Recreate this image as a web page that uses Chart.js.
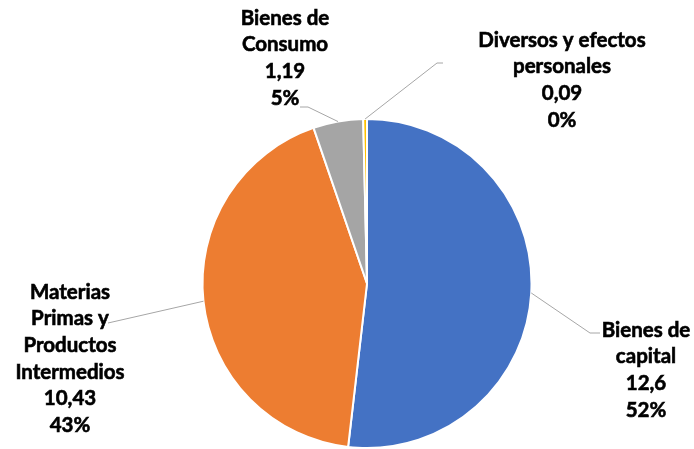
<!DOCTYPE html>
<html>
<head>
<meta charset="utf-8">
<script src="https://cdn.jsdelivr.net/npm/chart.js@4/dist/chart.umd.min.js"></script>
<style>
  html, body { margin: 0; padding: 0; background: #fff; }
  #wrap { width: 694px; height: 449px; }
</style>
</head>
<body>
<div id="wrap"><canvas id="pie"></canvas></div>
<script>
var categories = ['Bienes de capital', 'Materias Primas y Productos Intermedios', 'Bienes de Consumo', 'Diversos y efectos personales'];
var values = [12.6, 10.43, 1.19, 0.09];
var colors = ['#4472C4', '#ED7D31', '#A5A5A5', '#FFC000'];

// how each category name is broken into lines in the labels
var labelLines = [
    ['Bienes de', 'capital'],
    ['Materias', 'Primas y', 'Productos', 'Intermedios'],
    ['Bienes de', 'Consumo'],
    ['Diversos y efectos', 'personales']
];

// label placement: text centre x, first line y, leader bend and end points
var labelLayout = [
    { x: 646, y: 330, bend: [590, 333], end: [600, 333] },
    { x: 70, y: 292, bend: null, end: [108, 323] },
    { x: 285, y: 18, bend: [308, 107], end: [300, 107] },
    { x: 562, y: 40, bend: [437, 63], end: [443, 63] }
];

var fmt = function (v) {
    return String(v).replace('.', ',');
};

var pieLabels = {
    id: 'pieLabels',
    afterDatasetsDraw: function (chart) {
        var ctx = chart.ctx;
        var meta = chart.getDatasetMeta(0);
        var total = values.reduce(function (a, b) { return a + b; }, 0);
        ctx.save();
        meta.data.forEach(function (arc, i) {
            var p = arc.getProps(['x', 'y', 'startAngle', 'endAngle', 'outerRadius'], true);
            var mid = (p.startAngle + p.endAngle) / 2;
            var sx = p.x + Math.cos(mid) * p.outerRadius;
            var sy = p.y + Math.sin(mid) * p.outerRadius;
            var lay = labelLayout[i];

            ctx.strokeStyle = '#A6A6A6';
            ctx.lineWidth = 1;
            ctx.beginPath();
            ctx.moveTo(sx, sy);
            if (lay.bend) ctx.lineTo(lay.bend[0], lay.bend[1]);
            ctx.lineTo(lay.end[0], lay.end[1]);
            ctx.stroke();

            var lines = labelLines[i].concat([fmt(values[i]), Math.round(values[i] / total * 100) + '%']);
            ctx.fillStyle = '#000';
            ctx.font = 'bold 20.5px Lato';
            ctx.textAlign = 'center';
            ctx.textBaseline = 'middle';
            lines.forEach(function (t, k) {
                ctx.lineWidth = 0.6;
                ctx.strokeStyle = '#000';
                ctx.strokeText(t, lay.x, lay.y + k * 26.7);
                ctx.fillText(t, lay.x, lay.y + k * 26.7);
            });
        });
        ctx.restore();
    }
};

var config = {
    type: 'pie',
    data: {
        labels: categories,
        datasets: [{
            data: values,
            backgroundColor: colors,
            borderColor: '#fff',
            borderWidth: 2
        }]
    },
    options: {
        responsive: true,
        maintainAspectRatio: false,
        animation: false,
        layout: {
            padding: { top: 118, bottom: 0, left: 200, right: 160 }
        },
        plugins: {
            legend: { display: false },
            tooltip: { enabled: false }
        }
    },
    plugins: [pieLabels]
};

window.onload = function () {
    var ctx = document.getElementById('pie').getContext('2d');
    window.myPie = new Chart(ctx, config);
};
</script>
</body>
</html>
